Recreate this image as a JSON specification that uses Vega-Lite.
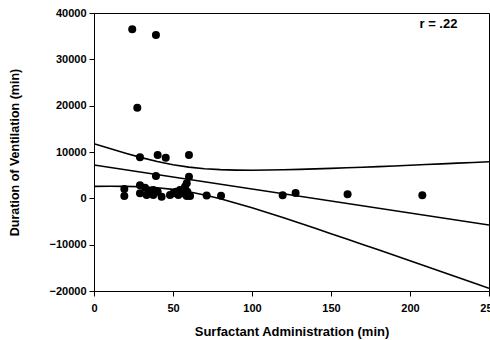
{
  "$schema": "https://vega.github.io/schema/vega-lite/v6.json",
  "width": 395,
  "height": 278,
  "autosize": "none",
  "padding": {"left": 94, "top": 13, "right": 1, "bottom": 49},
  "background": "white",
  "config": {
    "view": {"stroke": "black", "strokeWidth": 1},
    "font": "Liberation Sans",
    "axis": {
      "grid": false,
      "domainColor": "black",
      "tickColor": "black",
      "tickSize": 5,
      "labelColor": "black",
      "titleColor": "black",
      "labelFont": "Liberation Sans",
      "titleFont": "Liberation Sans",
      "labelFontWeight": "bold",
      "titleFontWeight": "bold",
      "labelFontSize": 11,
      "labelFlush": false,
      "labelOverlap": false
    }
  },
  "datasets": {
    "curves": [
      {"x": 0, "y": 11799, "series": "upper"},
      {"x": 10, "y": 10737, "series": "upper"},
      {"x": 20, "y": 9724, "series": "upper"},
      {"x": 30, "y": 8784, "series": "upper"},
      {"x": 40, "y": 7950, "series": "upper"},
      {"x": 50, "y": 7260, "series": "upper"},
      {"x": 60, "y": 6742, "series": "upper"},
      {"x": 70, "y": 6396, "series": "upper"},
      {"x": 80, "y": 6194, "series": "upper"},
      {"x": 90, "y": 6098, "series": "upper"},
      {"x": 100, "y": 6075, "series": "upper"},
      {"x": 110, "y": 6101, "series": "upper"},
      {"x": 120, "y": 6162, "series": "upper"},
      {"x": 130, "y": 6246, "series": "upper"},
      {"x": 140, "y": 6348, "series": "upper"},
      {"x": 150, "y": 6462, "series": "upper"},
      {"x": 160, "y": 6585, "series": "upper"},
      {"x": 170, "y": 6716, "series": "upper"},
      {"x": 180, "y": 6853, "series": "upper"},
      {"x": 190, "y": 6994, "series": "upper"},
      {"x": 200, "y": 7138, "series": "upper"},
      {"x": 210, "y": 7286, "series": "upper"},
      {"x": 220, "y": 7436, "series": "upper"},
      {"x": 230, "y": 7589, "series": "upper"},
      {"x": 240, "y": 7743, "series": "upper"},
      {"x": 250, "y": 7898, "series": "upper"},
      {"x": 0, "y": 7190, "series": "fit"},
      {"x": 250, "y": -5760, "series": "fit"},
      {"x": 0, "y": 2581, "series": "lower"},
      {"x": 10, "y": 2607, "series": "lower"},
      {"x": 20, "y": 2584, "series": "lower"},
      {"x": 30, "y": 2488, "series": "lower"},
      {"x": 40, "y": 2286, "series": "lower"},
      {"x": 50, "y": 1940, "series": "lower"},
      {"x": 60, "y": 1422, "series": "lower"},
      {"x": 70, "y": 732, "series": "lower"},
      {"x": 80, "y": -102, "series": "lower"},
      {"x": 90, "y": -1042, "series": "lower"},
      {"x": 100, "y": -2055, "series": "lower"},
      {"x": 110, "y": -3117, "series": "lower"},
      {"x": 120, "y": -4214, "series": "lower"},
      {"x": 130, "y": -5334, "series": "lower"},
      {"x": 140, "y": -6472, "series": "lower"},
      {"x": 150, "y": -7622, "series": "lower"},
      {"x": 160, "y": -8781, "series": "lower"},
      {"x": 170, "y": -9948, "series": "lower"},
      {"x": 180, "y": -11121, "series": "lower"},
      {"x": 190, "y": -12298, "series": "lower"},
      {"x": 200, "y": -13478, "series": "lower"},
      {"x": 210, "y": -14662, "series": "lower"},
      {"x": 220, "y": -15848, "series": "lower"},
      {"x": 230, "y": -17037, "series": "lower"},
      {"x": 240, "y": -18227, "series": "lower"},
      {"x": 250, "y": -19418, "series": "lower"}
    ],
    "points": [
      {"x": 24.2, "y": 36480},
      {"x": 39.2, "y": 35250},
      {"x": 27.4, "y": 19560},
      {"x": 29.1, "y": 8850},
      {"x": 40.3, "y": 9350},
      {"x": 45.4, "y": 8760},
      {"x": 60.1, "y": 9350},
      {"x": 39.2, "y": 4810},
      {"x": 60.1, "y": 4660},
      {"x": 19.2, "y": 2000},
      {"x": 19.2, "y": 500},
      {"x": 29.1, "y": 2800},
      {"x": 29.1, "y": 1080},
      {"x": 32.3, "y": 2300},
      {"x": 35.0, "y": 1420},
      {"x": 33.3, "y": 700},
      {"x": 37.5, "y": 1800},
      {"x": 37.5, "y": 700},
      {"x": 40.3, "y": 1420},
      {"x": 42.8, "y": 350},
      {"x": 48.1, "y": 700},
      {"x": 50.2, "y": 1080},
      {"x": 51.9, "y": 1420},
      {"x": 53.4, "y": 700},
      {"x": 54.4, "y": 1800},
      {"x": 56.1, "y": 1080},
      {"x": 57.6, "y": 2500},
      {"x": 58.7, "y": 3240},
      {"x": 59.1, "y": 1420},
      {"x": 58.7, "y": 500},
      {"x": 60.8, "y": 500},
      {"x": 71.3, "y": 600},
      {"x": 80.4, "y": 560},
      {"x": 119.4, "y": 650},
      {"x": 127.6, "y": 1140},
      {"x": 160.5, "y": 860},
      {"x": 207.8, "y": 650}
    ],
    "label": [
      {"x": 218, "y": 37600, "text": "r = .22"}
    ]
  },
  "layer": [
    {
      "data": {"name": "curves"},
      "mark": {"type": "line", "color": "black", "strokeWidth": 1.6, "clip": true},
      "encoding": {
        "x": {
          "field": "x", "type": "quantitative",
          "scale": {"domain": [0, 250], "nice": false, "zero": false},
          "axis": {"values": [0, 50, 100, 150, 200, 250], "title": "Surfactant Administration (min)", "titleFontSize": 13, "labelPadding": 6, "titlePadding": 12}
        },
        "y": {
          "field": "y", "type": "quantitative",
          "scale": {"domain": [-20000, 40000], "nice": false, "zero": false},
          "axis": {"values": [-20000, -10000, 0, 10000, 20000, 30000, 40000], "format": "d", "title": "Duration of Ventilation (min)", "titleFontSize": 12.5, "labelPadding": 3, "titlePadding": 27}
        },
        "detail": {"field": "series"}
      }
    },
    {
      "data": {"name": "points"},
      "mark": {"type": "circle", "color": "black", "opacity": 1, "size": 64},
      "encoding": {
        "x": {"field": "x", "type": "quantitative"},
        "y": {"field": "y", "type": "quantitative"}
      }
    },
    {
      "data": {"name": "label"},
      "mark": {"type": "text", "fontSize": 13, "fontWeight": "bold", "color": "black", "align": "center", "baseline": "middle"},
      "encoding": {
        "x": {"field": "x", "type": "quantitative"},
        "y": {"field": "y", "type": "quantitative"},
        "text": {"field": "text"}
      }
    }
  ]
}
